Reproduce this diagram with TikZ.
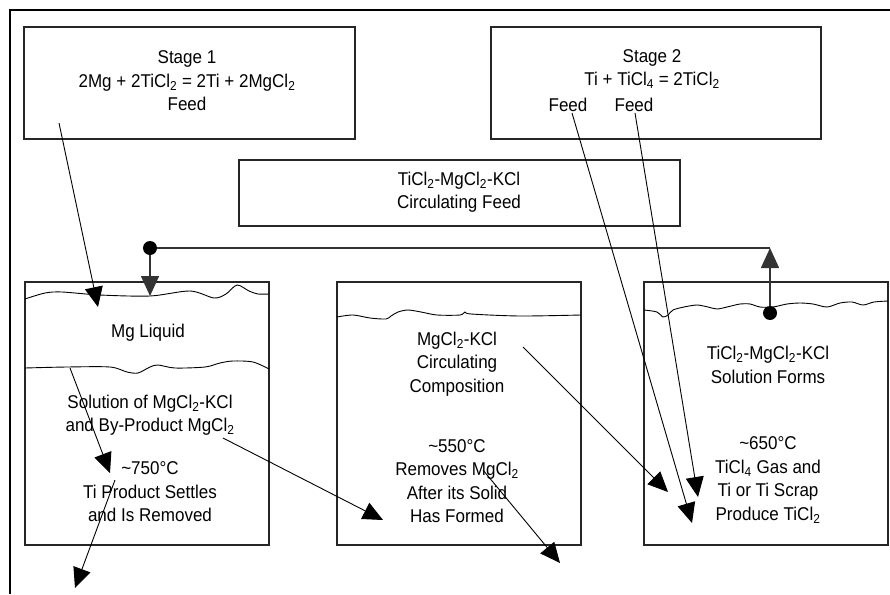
\documentclass[tikz,border=0pt]{standalone}
\usepackage{fontspec}
\setmainfont{Liberation Sans}[FakeStretch=0.92]
\usetikzlibrary{arrows.meta}
\newcommand{\chsub}[1]{\textsubscript{#1}}
\newcommand{\abt}{\textasciitilde}

\begin{document}
\begin{tikzpicture}[x=1pt, y=-1pt,
  box/.style={draw=black!85, line width=1.2pt, inner sep=0pt},
  txt/.style={align=center, font=\fontsize{18.5}{23.5}\selectfont, inner sep=1pt},
  arr/.style={-{Triangle[length=20pt,width=18pt]}, line width=0.9pt},
  loopline/.style={draw=black!80, line width=1.6pt},
  wave/.style={line width=0.9pt}
]
\useasboundingbox (0,0) rectangle (890,594);
\draw[line width=1.2pt] (10,594) -- (10,10) -- (890,10);

\node[box, minimum width=331pt, minimum height=112pt] (stage1) at (189.5,83) {};
\node[box, minimum width=330pt, minimum height=112pt] (stage2) at (656,83) {};
\node[box, minimum width=441pt, minimum height=66pt] (circ) at (459.5,193) {};
\node[box, minimum width=244pt, minimum height=263pt] (tankA) at (147,413.5) {};
\node[box, minimum width=244pt, minimum height=263pt] (tankB) at (459,413.5) {};
\node[box, minimum width=244pt, minimum height=263pt] (tankC) at (766,413.5) {};

\node[txt] (s1text) at (187,81) {Stage 1\\2Mg + 2TiCl\chsub{2} = 2Ti + 2MgCl\chsub{2}\\Feed};
\node[txt] (s2text) at (652,69) {Stage 2\\Ti + TiCl\chsub{4} = 2TiCl\chsub{2}};
\node[txt] (feedl) at (568,105) {Feed};
\node[txt] (feedr) at (634,105) {Feed};
\node[txt] (circtext) at (459,192) {TiCl\chsub{2}-MgCl\chsub{2}-KCl\\Circulating Feed};

\node[txt] (mgliq) at (148,333) {Mg Liquid};
\node[txt] (solA) at (150,415) {Solution of MgCl\chsub{2}-KCl\\and By-Product MgCl\chsub{2}};
\node[txt] (tempA) at (150,492) {\abt750°C\\Ti Product Settles\\and Is Removed};
\node[txt] (compB) at (457,364) {MgCl\chsub{2}-KCl\\Circulating\\Composition};
\node[txt] (tempB) at (457,481) {\abt550°C\\Removes MgCl\chsub{2}\\After its Solid\\Has Formed};
\node[txt] (solC) at (768,365) {TiCl\chsub{2}-MgCl\chsub{2}-KCl\\Solution Forms};
\node[txt] (tempC) at (768,480) {\abt650°C\\TiCl\chsub{4} Gas and\\Ti or Ti Scrap\\Produce TiCl\chsub{2}};

\draw[wave] plot[smooth] coordinates {(25,299) (45,293) (62,292) (100,295) (150,296) (190,291) (214,298) (226,294) (237,285) (249,291) (258,294) (269,294)};
\draw[wave] plot[smooth] coordinates {(25,368) (67,367) (110,367) (127,372) (138,373) (150,367) (158,365) (175,368) (205,367) (220,363) (233,361) (253,362) (269,369)};
\draw[wave] plot[smooth] coordinates {(337,317) (353,315) (370,318) (386,319) (391,316) (398,312) (408,310) (421,312) (437,315) (460,315) (465,312) (471,314) (520,316) (581,315)};
\draw[wave] plot[smooth] coordinates {(644,310) (657,312) (663,317) (668,315) (673,310) (684,307) (697,305) (708,307) (717,309) (727,307) (740,304) (750,304) (760,307) (773,307) (787,304) (800,303) (813,304) (827,307) (840,303) (852,302) (863,305) (874,302) (888,301)};

\coordinate (jl) at (150,248);
\coordinate (jr) at (770,248);
\coordinate (inA) at (150,296);
\coordinate (outC) at (770,313);
\draw[loopline] (jl) -- (jr);
\draw[loopline, arr, line width=1.6pt] (jl) -- (inA);
\draw[loopline, arr, line width=1.6pt] (outC) -- (jr);
\fill (jl) circle[radius=7pt];
\fill (outC) circle[radius=7pt];

\coordinate (s1feed) at (59,123);
\coordinate (mgin) at (98,307);
\coordinate (layerA) at (70,368);
\coordinate (tiA) at (110,473);
\coordinate (settleA) at (115,480);
\coordinate (tiout) at (75,588);
\coordinate (saltA) at (223,438);
\coordinate (saltinB) at (383,520);
\coordinate (compout) at (523,347);
\coordinate (compinC) at (668,492);
\coordinate (mgcl) at (483,470);
\coordinate (mgclout) at (560,563);
\coordinate (ticl4in) at (692,523);
\coordinate (tiin) at (698,497);

\draw[arr] (s1feed) -- (mgin);
\draw[arr] (layerA) -- (tiA);
\draw[arr] (settleA) -- (tiout);
\draw[arr] (saltA) -- (saltinB);
\draw[arr] (compout) -- (compinC);
\draw[arr] (mgcl) -- (mgclout);
\draw[arr] ([xshift=4pt]feedl.south) -- (ticl4in);
\draw[arr] ([xshift=1pt]feedr.south) -- (tiin);
\end{tikzpicture}
\end{document}
